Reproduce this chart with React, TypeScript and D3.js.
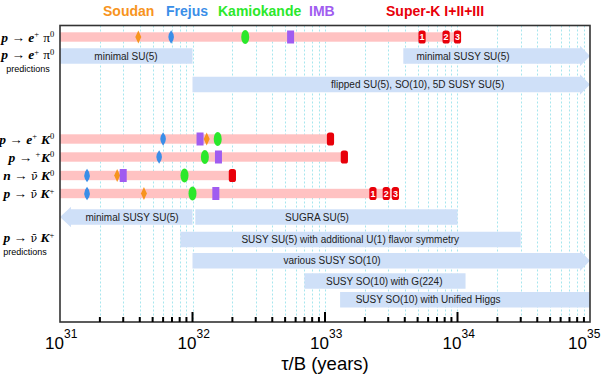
import React from "react";
import * as d3 from "d3";

// ---------- data ----------
const experiments = ["Soudan", "Frejus", "Kamiokande", "IMB", "Super-K I+II+III"];
const expColors = ["#f7941e", "#3a8ee8", "#2be82b", "#a05cf0", "#e8000a"];

const decayModes = ["p→e+π0", "p→e+K0", "p→μ+K0", "n→ν̄K0", "p→ν̄K+"];
// lifetime limits tau/B (years), per experiment, per decay mode
const soudanLimits: (number | null)[] = [3.9e31, 1.28e32, null, 2.7e31, 4.3e31];
const frejusLimits: (number | null)[] = [6.9e31, 6.0e31, 5.6e31, 1.6e31, 1.6e31];
const kamiokandeLimits: (number | null)[] = [2.5e32, 1.55e32, 1.24e32, 8.7e31, 1.0e32];
const imbLimits: (number | null)[] = [5.5e32, 1.14e32, 1.57e32, 3.0e31, 1.5e32];
const superKLimits: number[][] = [
  [5.4e33, 8.2e33, 1.0e34],
  [1.1e33],
  [1.4e33],
  [2.0e32],
  [2.3e33, 2.9e33, 3.4e33],
];

// theory predictions for p -> e+ pi0
const epiModels = ["minimal SU(5)", "minimal SUSY SU(5)", "flipped SU(5), SO(10), 5D SUSY SU(5)"];
const epiLow = [1e31, 3.9e33, 1e32];
const epiHigh = [1e32, 1e35, 1e35];
const epiArrow = ["none", "right", "right"];
const epiLabelAt = [3.15e31, 1.1e34, 5.0e33];
const epiLane = [0, 0, 1];

// theory predictions for p -> nubar K+
const nuKModels = [
  "minimal SUSY SU(5)",
  "SUGRA SU(5)",
  "SUSY SU(5) with additional U(1) flavor symmetry",
  "various SUSY SO(10)",
  "SUSY SO(10) with G(224)",
  "SUSY SO(10) with Unified Higgs",
];
const nuKLow = [1e31, 1.05e32, 8.1e31, 1e32, 7e32, 1.3e33];
const nuKHigh = [1e32, 1e34, 3e34, 1e35, 1.15e34, 1e35];
const nuKArrow = ["left", "none", "none", "right", "none", "none"];
const nuKLabelAt = [3.5e31, 8.7e32, 1.55e33, 1.13e33, 2.8e33, 6.0e33];
const nuKLane = [0, 0, 1, 2, 3, 4];

const axisExponents = [31, 32, 33, 34, 35];

// ---------- layout ----------
const W = 602;
const H = 377;
const L = 60;
const R = 590;
const T = 25.5;
const B = 322;
const modeY = [37, 139, 157, 175.5, 193.5];
const epiLaneY = [56, 84.5];
const nuKLaneY = [217, 239.5, 260.8, 281, 299.8];
const BOX_H = 15.5;
const HEAD = 10;

const x = d3.scaleLog().domain([1e31, 1e35]).range([L, R]);

function bandPath(lo: number, hi: number, cy: number, arrow: string) {
  const x0 = x(lo);
  const x1 = x(hi);
  const top = cy - BOX_H / 2;
  const bot = cy + BOX_H / 2;
  if (arrow === "right") {
    const hb = x1 - HEAD;
    return `M${x0},${top}L${hb},${top}L${hb},${top - 2.5}L${x1},${cy}L${hb},${bot + 2.5}L${hb},${bot}L${x0},${bot}Z`;
  }
  if (arrow === "left") {
    const hb = x0 + HEAD + 1;
    return `M${x1},${top}L${hb},${top}L${hb},${top - 2.5}L${x0},${cy}L${hb},${bot + 2.5}L${hb},${bot}L${x1},${bot}Z`;
  }
  return `M${x0},${top}L${x1},${top}L${x1},${bot}L${x0},${bot}Z`;
}

const serif = "'Liberation Serif', 'Times New Roman', serif";
const sans = "'Liberation Sans', Arial, Helvetica, sans-serif";

function BI({ children }: { children: React.ReactNode }) {
  return (
    <tspan fontWeight="bold" fontStyle="italic">
      {children}
    </tspan>
  );
}
function Sup({ children }: { children: React.ReactNode }) {
  return (
    <>
      <tspan dy={-4.5} fontSize={8.5}>
        {children}
      </tspan>
      <tspan dy={4.5} fontSize={8.5}>
        {"\u200A"}
      </tspan>
    </>
  );
}
function NuBar() {
  return <tspan fontFamily="'DejaVu Serif', serif" fontSize={11}>{"ν\u0304"}</tspan>;
}

function ModeLabel({ idx, y, size = 13.5 }: { idx: number; y: number; size?: number }) {
  const arrow = <tspan>{" → "}</tspan>;
  let content: React.ReactNode = null;
  if (idx === 0)
    content = (
      <>
        <BI>p</BI>
        {arrow}
        <BI>e</BI>
        <Sup>+</Sup>
        <tspan>{" π"}</tspan>
        <Sup>0</Sup>
      </>
    );
  else if (idx === 1)
    content = (
      <>
        <BI>p</BI>
        {arrow}
        <BI>e</BI>
        <Sup>+</Sup>
        <BI>{" K"}</BI>
        <Sup>0</Sup>
      </>
    );
  else if (idx === 2)
    content = (
      <>
        <BI>p</BI>
        {arrow}
        <tspan>{"   "}</tspan>
        <Sup>+</Sup>
        <BI>{"K"}</BI>
        <Sup>0</Sup>
      </>
    );
  else if (idx === 3)
    content = (
      <>
        <BI>n</BI>
        {arrow}
        <NuBar />
        <BI>{" K"}</BI>
        <Sup>0</Sup>
      </>
    );
  else
    content = (
      <>
        <BI>p</BI>
        {arrow}
        <NuBar />
        <BI>{" K"}</BI>
        <Sup>+</Sup>
      </>
    );
  return (
    <text x={55} y={y + 4.5} textAnchor="end" fontFamily={serif} fontSize={size} fill="#000">
      {content}
    </text>
  );
}

function Marker({ exp, v, cy, digit }: { exp: number; v: number; cy: number; digit?: string }) {
  const cx = x(v);
  const c = expColors[exp];
  if (exp === 0) {
    return <path d={`M${cx},${cy - 6.5}L${cx + 3},${cy}L${cx},${cy + 6.5}L${cx - 3},${cy}Z`} fill={c} />;
  }
  if (exp === 1) {
    return (
      <path
        d={`M${cx},${cy - 6.8}Q${cx + 5.6},${cy} ${cx},${cy + 6.8}Q${cx - 5.6},${cy} ${cx},${cy - 6.8}Z`}
        fill={c}
      />
    );
  }
  if (exp === 2) {
    return <ellipse cx={cx} cy={cy} rx={4} ry={7} fill={c} />;
  }
  if (exp === 3) {
    return <rect x={cx - 3.5} y={cy - 6.5} width={7} height={13} fill={c} />;
  }
  return (
    <g>
      <rect x={cx - 3.6} y={cy - 6.5} width={7.2} height={13} rx={2.6} fill={c} />
      {digit && (
        <text x={cx} y={cy + 3.4} textAnchor="middle" fontFamily={sans} fontWeight="bold" fontSize={9} fill="#fff">
          {digit}
        </text>
      )}
    </g>
  );
}

export default function App() {
  const gridTicks = x.ticks().filter((t) => t > 1e31 * 1.01 && t < 1e35 * 0.99);
  const allTicks = x.ticks();
  const limits = [soudanLimits, frejusLimits, kamiokandeLimits, imbLimits];

  return (
    <svg width={W} height={H} style={{ position: "absolute", left: 0, top: 0 }} xmlns="http://www.w3.org/2000/svg">
      <rect x={0} y={0} width={W} height={H} fill="#fff" />

      {/* legend */}
      <g fontFamily={sans} fontWeight="bold" fontSize={14}>
        {experiments.map((e, i) => (
          <text key={e} x={[103, 166, 218, 309, 386][i]} y={16} fill={expColors[i]}>
            {e}
          </text>
        ))}
      </g>

      {/* grid */}
      <g stroke="#a6e6ee" strokeWidth={1} strokeDasharray="2,2">
        {gridTicks.map((t, i) => (
          <line key={i} x1={Math.round(x(t)) + 0.5} x2={Math.round(x(t)) + 0.5} y1={T} y2={B} />
        ))}
      </g>

      {/* measured limits bars */}
      {decayModes.map((m, i) => {
        const all = [
          ...limits.map((l) => l[i]).filter((v): v is number => v != null),
          ...superKLimits[i],
        ];
        const mx = d3.max(all) as number;
        return (
          <rect key={m} x={x(1e31)} y={modeY[i] - 4.7} width={x(mx) - x(1e31)} height={9.4} fill="#ffc2c2" />
        );
      })}

      {/* predictions */}
      {epiModels.map((m, i) => (
        <g key={m}>
          <path d={bandPath(epiLow[i], epiHigh[i], epiLaneY[epiLane[i]], epiArrow[i])} fill="#cfe0f8" />
          <text
            x={x(epiLabelAt[i])}
            y={epiLaneY[epiLane[i]] + 3.5}
            textAnchor="middle"
            fontFamily={sans}
            fontSize={10}
            fill="#222"
          >
            {m}
          </text>
        </g>
      ))}
      {nuKModels.map((m, i) => (
        <g key={m}>
          <path d={bandPath(nuKLow[i], nuKHigh[i], nuKLaneY[nuKLane[i]], nuKArrow[i])} fill="#cfe0f8" />
          <text
            x={x(nuKLabelAt[i])}
            y={nuKLaneY[nuKLane[i]] + 3.5}
            textAnchor="middle"
            fontFamily={sans}
            fontSize={10}
            fill="#222"
          >
            {m}
          </text>
        </g>
      ))}

      {/* markers */}
      {decayModes.map((m, i) => (
        <g key={m}>
          {limits.map((l, e) => (l[i] != null ? <Marker key={e} exp={e} v={l[i] as number} cy={modeY[i]} /> : null))}
          {superKLimits[i].map((v, k) => (
            <Marker
              key={"sk" + k}
              exp={4}
              v={v}
              cy={modeY[i]}
              digit={superKLimits[i].length > 1 ? String(k + 1) : undefined}
            />
          ))}
        </g>
      ))}

      {/* frame */}
      <rect x={L} y={T} width={R - L} height={B - T} fill="none" stroke="#333" strokeWidth={1.6} />

      {/* ticks */}
      <g stroke="#000" strokeWidth={2}>
        {allTicks.map((t, i) => {
          const major = Math.abs(Math.log10(t) - Math.round(Math.log10(t))) < 1e-9;
          if (t <= 1e31 * 1.01 || t >= 1e35 * 0.99) return null;
          return <line key={i} x1={x(t)} x2={x(t)} y1={B} y2={B - (major ? 10 : 5)} />;
        })}
      </g>

      {/* tick labels */}
      <g fontFamily={sans} fill="#000">
        {axisExponents.map((e) => {
          const tx = Math.min(x(Math.pow(10, e)) + 4, 587);
          return (
            <g key={e}>
              <text x={tx} y={349} textAnchor="end" fontSize={17}>
                10
              </text>
              <text x={tx} y={338} textAnchor="start" fontSize={12}>
                {e}
              </text>
            </g>
          );
        })}
      </g>
      <text x={325} y={370} textAnchor="middle" fontFamily={sans} fontSize={18.5} fill="#000">
        τ/B (years)
      </text>

      {/* left labels */}
      {decayModes.map((m, i) => (
        <ModeLabel key={m} idx={i} y={modeY[i]} />
      ))}
      <ModeLabel idx={0} y={54.5} />
      <text x={28} y={72} textAnchor="middle" fontFamily={sans} fontSize={9} fill="#000">
        predictions
      </text>
      <ModeLabel idx={4} y={237.5} />
      <text x={25} y={255} textAnchor="middle" fontFamily={sans} fontSize={9} fill="#000">
        predictions
      </text>
    </svg>
  );
}
